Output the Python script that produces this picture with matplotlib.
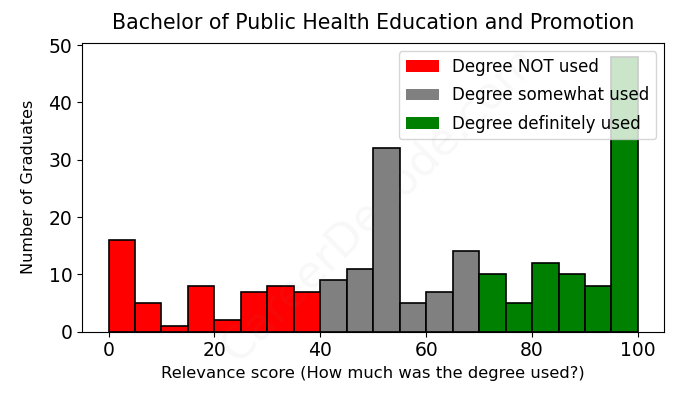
import matplotlib
matplotlib.use("Agg")
import matplotlib.pyplot as plt
from matplotlib.patches import Patch
import numpy as np

# histogram counts, bins of width 5 from 0 to 100
bin_edges = list(range(0, 105, 5))
counts = [16, 5, 1, 8, 2, 7, 8, 7,
          9, 11, 32, 5, 7, 14,
          10, 5, 12, 10, 8, 48]

groups = [
    ("Degree NOT used", "red", 0, 40),
    ("Degree somewhat used", "grey", 40, 70),
    ("Degree definitely used", "green", 70, 100),
]

fig = plt.figure(figsize=(6.78, 4.08), dpi=100)
ax = fig.add_axes([0.121, 0.187, 0.859, 0.708])

lefts = np.array(bin_edges[:-1])
vals = np.array(counts)
for label, color, lo, hi in groups:
    m = (lefts >= lo) & (lefts < hi)
    ax.bar(lefts[m], vals[m], width=5, align="edge", color=color,
           edgecolor="black", linewidth=1.2)

ax.set_xlim(-5, 105)
ax.set_ylim(0, 50.4)
ax.set_yticks([0, 10, 20, 30, 40, 50])
ax.tick_params(labelsize=13.5)
ax.set_title("Bachelor of Public Health Education and Promotion", fontsize=14.8, pad=10)
ax.set_xlabel("Relevance score (How much was the degree used?)", fontsize=11.8)
ax.set_ylabel("Number of Graduates", fontsize=11.5, labelpad=9)

handles = [Patch(facecolor=c, label=l) for l, c, _, _ in groups]
ax.legend(handles=handles, loc="upper right", fontsize=12, labelspacing=0.62)

fig.text(0.56, 0.50, "CareerDecode.com", fontsize=32, color="grey", alpha=0.06,
         rotation=45, ha="center", va="center")

fig.savefig("out.png", dpi=100)
